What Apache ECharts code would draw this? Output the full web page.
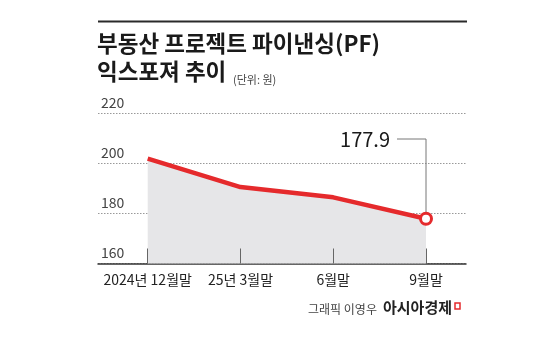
<!DOCTYPE html>
<html><head><meta charset="utf-8">
<script src="https://cdn.jsdelivr.net/npm/echarts@6/dist/echarts.min.js"></script>
<style>html,body{margin:0;padding:0;background:#fff}#c{width:550px;height:344px}</style>
</head><body><div id="c"></div>
<script>
const categories = ['2024년 12월말', '25년 3월말', '6월말', '9월말'];
const values = [202.0, 190.6, 186.5, 177.9];
const yTicks = [160, 180, 200, 220];
const highlightLabel = '177.9';

const FONT = '"Noto Sans CJK KR", "Noto Sans", sans-serif';
const chart = echarts.init(document.getElementById('c'), null, {renderer: 'canvas'});
const TOP = 113.7, BOTTOM = 344 - 263.5;

const option = {
  animation: false,
  grid: [
    {left: 98, right: 84, top: TOP, bottom: BOTTOM},
    {left: 147.7, right: 124, top: TOP, bottom: BOTTOM}
  ],
  xAxis: [
    {gridIndex: 0, type: 'value', min: 0, max: 1, show: true,
     axisLine: {show: true, lineStyle: {color: '#333', width: 1.5}},
     axisTick: {show: false}, axisLabel: {show: false}, splitLine: {show: false}},
    {gridIndex: 1, type: 'category', data: categories, boundaryGap: false, z: 5,
     axisLine: {show: false},
     axisTick: {show: true, inside: true, interval: 0, length: 15, lineStyle: {color: '#666', width: 1}},
     axisLabel: {interval: 0, color: '#222', fontFamily: FONT, fontSize: 14, margin: 9}}
  ],
  yAxis: [
    {gridIndex: 0, type: 'value', min: yTicks[0], max: yTicks[yTicks.length - 1], interval: 20,
     axisLine: {show: false}, axisTick: {show: false},
     axisLabel: {inside: true, align: 'left', verticalAlign: 'bottom', margin: 3, padding: [0, 0, 4, 0],
                 color: '#444', fontFamily: FONT, fontSize: 14},
     splitLine: {show: true, lineStyle: {color: '#999', type: [1.5, 1.5], width: 1}}},
    {gridIndex: 1, type: 'value', min: yTicks[0], max: yTicks[yTicks.length - 1], interval: 20,
     show: false, splitLine: {show: false}}
  ],
  series: [{
    type: 'line', xAxisIndex: 1, yAxisIndex: 1, data: values,
    lineStyle: {color: '#e52a2c', width: 4.5},
    areaStyle: {color: '#e6e6e8', opacity: 1},
    symbol: 'circle', symbolSize: (v, p) => p.dataIndex === values.length - 1 ? 11 : 0,
    showSymbol: true,
    itemStyle: {color: '#fff', borderColor: '#e52a2c', borderWidth: 3},
    z: 3
  }],
  graphic: [
    {type: 'rect', shape: {x: 98, y: 20.5, width: 369, height: 2}, style: {fill: '#2a2a2a'}},
    {type: 'text', left: 97, top: 32, style: {text: '부동산 프로젝트 파이낸싱(PF)', fontFamily: FONT, fontSize: 22.5, fontWeight: 'bold', fill: '#1a1a1a'}},
    {type: 'text', left: 97, top: 60, style: {text: '익스포져 추이', fontFamily: FONT, fontSize: 22.5, fontWeight: 'bold', fill: '#1a1a1a'}},
    {type: 'text', left: 233, top: 74, style: {text: '(단위: 원)', fontFamily: FONT, fontSize: 11, fill: '#444'}},
    {type: 'text', left: 308, top: 303, style: {text: '그래픽 이영우', fontFamily: FONT, fontSize: 12, fill: '#444'}},
    {type: 'text', left: 383, top: 300, style: {text: '아시아경제', fontFamily: FONT, fontSize: 15, fontWeight: 'bold', fill: '#222'}},
    {type: 'rect', shape: {x: 455, y: 303, width: 5, height: 6}, style: {fill: '#fff', stroke: '#e52a2c', lineWidth: 1.5}}
  ]
};
chart.setOption(option);

const last = values.length - 1;
const p = chart.convertToPixel({xAxisIndex: 1, yAxisIndex: 1}, [last, values[last]]);
const ly = 139;
chart.setOption({graphic: option.graphic.concat([
  {type: 'polyline', shape: {points: [[p[0] - 29, ly], [p[0], ly], [p[0], p[1] - 6]]}, style: {stroke: '#777', lineWidth: 1, fill: null}, z: 1},
  {type: 'text', x: p[0] - 36, y: ly, style: {text: highlightLabel, fontFamily: FONT, fontSize: 20, fill: '#1a1a1a', align: 'right', verticalAlign: 'middle'}}
])});
</script></body></html>
